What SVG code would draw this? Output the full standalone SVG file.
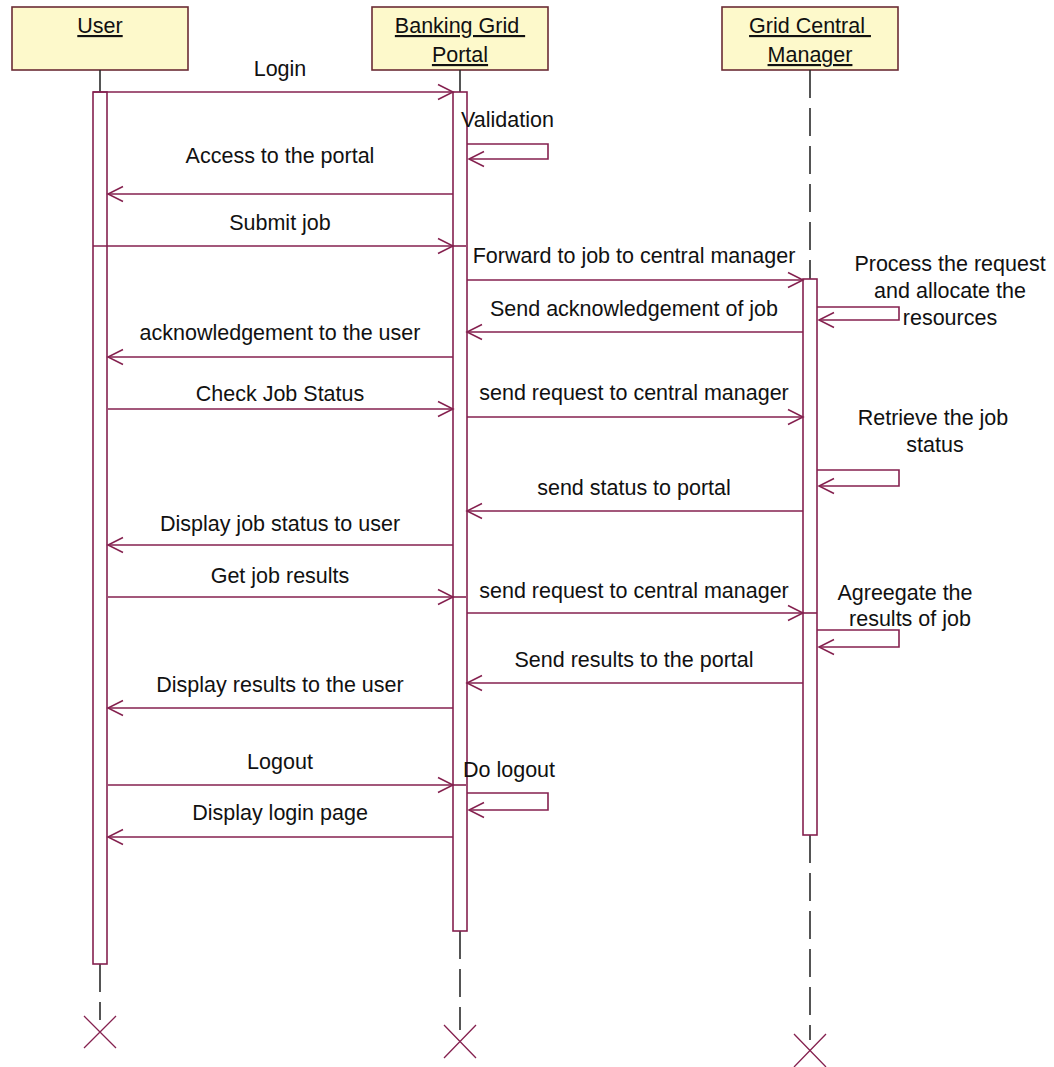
<svg xmlns="http://www.w3.org/2000/svg" width="1054" height="1067" viewBox="0 0 1054 1067">
  <style>
    .box { fill: #fdf9cb; stroke: #6b2c35; stroke-width: 1.6; }
    .title { font-family: "Liberation Sans", Arial, sans-serif; font-size: 21.5px; fill: #111; text-anchor: middle; text-decoration: underline; }
    .lbl { font-family: "Liberation Sans", Arial, sans-serif; font-size: 21.5px; fill: #111; }
    .mid { text-anchor: middle; }
    .life { stroke: #2b2b2b; stroke-width: 1.6; fill: none; }
    .dash { stroke-dasharray: 28 10; }
    .act { fill: #ffffff; stroke: #85214f; stroke-width: 1.6; }
    .msg { stroke: #85214f; stroke-width: 1.6; fill: none; }
    .arr { marker-end: url(#open); }
    .kill { stroke: #85214f; stroke-width: 1.3; fill: none; }
  </style>
  <defs>
    <marker id="open" markerUnits="userSpaceOnUse" orient="auto" overflow="visible" markerWidth="20" markerHeight="20" refX="0" refY="0">
      <path d="M-15,-7.5 L0,0 L-15,7.5" fill="none" stroke="#85214f" stroke-width="1.5"/>
    </marker>
  </defs>
  <rect width="1054" height="1067" fill="#ffffff"/>

  <!-- User -->
  <g id="user">
    <rect class="box" x="12" y="7" width="176" height="63"/>
    <text class="title" x="100" y="33">User</text>
    <line class="life" x1="100" y1="70" x2="100" y2="92"/>
    <line class="life dash" x1="100" y1="964" x2="100" y2="1020"/>
    <rect class="act" x="93" y="92" width="14" height="872"/>
    <path class="kill" d="M84,1016 L116,1048 M116,1016 L84,1048"/>
  </g>

  <!-- Banking Grid Portal -->
  <g id="portal">
    <rect class="box" x="372" y="7" width="176" height="63"/>
    <text class="title" x="460" y="33">Banking Grid&#160;</text>
    <text class="title" x="460" y="62">Portal</text>
    <line class="life" x1="460" y1="70" x2="460" y2="92"/>
    <line class="life dash" x1="460" y1="931" x2="460" y2="1030"/>
    <rect class="act" x="453" y="92" width="14" height="839"/>
    <path class="kill" d="M444,1025 L476,1058 M476,1025 L444,1058"/>
  </g>

  <!-- Grid Central Manager -->
  <g id="manager">
    <rect class="box" x="722" y="7" width="176" height="63"/>
    <text class="title" x="810" y="33">Grid Central&#160;</text>
    <text class="title" x="810" y="62">Manager</text>
    <line class="life dash" x1="810" y1="70" x2="810" y2="279"/>
    <line class="life dash" x1="810" y1="835" x2="810" y2="1040"/>
    <rect class="act" x="803" y="279" width="14" height="556"/>
    <path class="kill" d="M794,1034 L826,1067 M826,1034 L794,1067"/>
  </g>

  <!-- Messages -->
  <g id="messages">
    <path class="msg arr" d="M93,92 H453"/>
    <text class="lbl mid" x="280" y="76">Login</text>

    <path class="msg arr" d="M467,144 H548 V159 H469"/>
    <text class="lbl" x="461" y="127">Validation</text>

    <path class="msg arr" d="M453,194 H108"/>
    <text class="lbl mid" x="280" y="163">Access to the portal</text>

    <path class="msg arr" d="M93,246 H453"/>
    <path class="msg" d="M453,246 H466"/>
    <text class="lbl mid" x="280" y="230">Submit job</text>

    <path class="msg arr" d="M467,280 H803"/>
    <text class="lbl mid" x="634" y="263">Forward to job to central manager</text>

    <path class="msg arr" d="M817,307 H899 V320 H819"/>
    <text class="lbl mid" x="950" y="271">Process the request</text>
    <text class="lbl mid" x="950" y="298">and allocate the</text>
    <text class="lbl mid" x="950" y="325">resources</text>

    <path class="msg arr" d="M803,332 H467"/>
    <text class="lbl mid" x="634" y="316">Send acknowledgement of job</text>

    <path class="msg arr" d="M453,357 H108"/>
    <text class="lbl mid" x="280" y="340">acknowledgement to the user</text>

    <path class="msg arr" d="M108,409 H453"/>
    <text class="lbl mid" x="280" y="401">Check Job Status</text>

    <path class="msg arr" d="M467,417 H803"/>
    <text class="lbl mid" x="634" y="400">send request to central manager</text>

    <path class="msg arr" d="M817,470 H899 V486 H819"/>
    <text class="lbl mid" x="933" y="425">Retrieve the job</text>
    <text class="lbl mid" x="935" y="452">status</text>

    <path class="msg arr" d="M803,511 H467"/>
    <text class="lbl mid" x="634" y="495">send status to portal</text>

    <path class="msg arr" d="M453,545 H108"/>
    <text class="lbl mid" x="280" y="531">Display job status to user</text>

    <path class="msg arr" d="M108,597 H453"/>
    <path class="msg" d="M453,597 H466"/>
    <text class="lbl mid" x="280" y="583">Get job results</text>

    <path class="msg arr" d="M467,613 H803"/>
    <path class="msg" d="M803,613 H817"/>
    <text class="lbl mid" x="634" y="598">send request to central manager</text>

    <path class="msg arr" d="M817,630 H899 V647 H819"/>
    <text class="lbl mid" x="905" y="600">Agreegate the</text>
    <text class="lbl mid" x="910" y="626">results of job</text>

    <path class="msg arr" d="M803,683 H467"/>
    <text class="lbl mid" x="634" y="667">Send results to the portal</text>

    <path class="msg arr" d="M453,708 H108"/>
    <text class="lbl mid" x="280" y="692">Display results to the user</text>

    <path class="msg arr" d="M108,785 H453"/>
    <path class="msg" d="M453,785 H466"/>
    <text class="lbl mid" x="280" y="769">Logout</text>

    <path class="msg arr" d="M467,793 H548 V810 H469"/>
    <text class="lbl" x="463" y="777">Do logout</text>

    <path class="msg arr" d="M453,837 H108"/>
    <text class="lbl mid" x="280" y="820">Display login page</text>
  </g>
</svg>
